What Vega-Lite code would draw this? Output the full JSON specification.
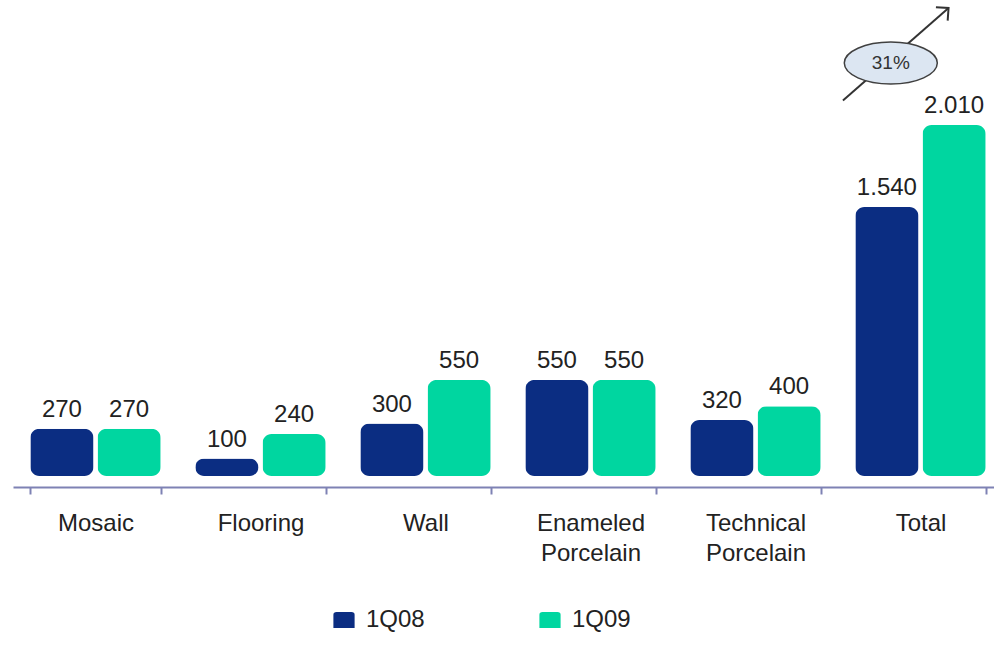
{
  "$schema": "https://vega.github.io/schema/vega-lite/v6.json",
  "autosize": {"type": "none"},
  "width": 990,
  "height": 476,
  "padding": {"left": 13, "top": 0, "right": 0, "bottom": 169},
  "background": "white",
  "config": {
    "view": {"stroke": null},
    "font": "Liberation Sans",
    "locale": {"number": {"decimal": ",", "thousands": ".", "grouping": [3], "currency": ["", ""]}}
  },
  "layer": [
    {
      "data": {"values": [
        {"category": "Mosaic", "period": "1Q08", "value": 270},
        {"category": "Mosaic", "period": "1Q09", "value": 270},
        {"category": "Flooring", "period": "1Q08", "value": 100},
        {"category": "Flooring", "period": "1Q09", "value": 240},
        {"category": "Wall", "period": "1Q08", "value": 300},
        {"category": "Wall", "period": "1Q09", "value": 550},
        {"category": "Enameled Porcelain", "period": "1Q08", "value": 550},
        {"category": "Enameled Porcelain", "period": "1Q09", "value": 550},
        {"category": "Technical Porcelain", "period": "1Q08", "value": 320},
        {"category": "Technical Porcelain", "period": "1Q09", "value": 400},
        {"category": "Total", "period": "1Q08", "value": 1540},
        {"category": "Total", "period": "1Q09", "value": 2010}
      ]},
      "encoding": {
        "x": {
          "field": "category", "type": "nominal",
          "sort": ["Mosaic", "Flooring", "Wall", "Enameled Porcelain", "Technical Porcelain", "Total"],
          "scale": {"paddingInner": 0.21, "paddingOuter": 0.105},
          "axis": {
            "title": null, "labelAngle": 0, "offset": 11,
            "domainColor": "#7e82b4", "domainWidth": 2,
            "tickColor": "#7e82b4", "tickWidth": 2, "tickSize": 7, "tickBand": "extent",
            "labelFontSize": 24, "labelColor": "#222222", "labelPadding": 17,
            "labelLineHeight": 30,
            "labelExpr": "split(datum.label, ' ')"
          }
        },
        "xOffset": {"field": "period", "type": "nominal", "scale": {"paddingInner": 0.06, "paddingOuter": 0}},
        "y": {
          "field": "value", "type": "quantitative",
          "scale": {"domain": [0, 2726], "nice": false},
          "axis": null
        }
      },
      "layer": [
        {
          "mark": {"type": "bar", "cornerRadius": 9},
          "encoding": {
            "color": {
              "field": "period", "type": "nominal",
              "scale": {"domain": ["1Q08", "1Q09"], "range": ["#0b2d82", "#00d6a0"]},
              "legend": {
                "title": null, "orient": "none", "direction": "horizontal",
                "legendX": 319, "legendY": 608,
                "symbolType": "M -1 -0.5 Q -1 -0.75 -0.7 -0.75 L 0.7 -0.75 Q 1 -0.75 1 -0.5 L 1 0.75 L -1 0.75 Z",
                "symbolSize": 450, "symbolStrokeWidth": 0, "symbolOpacity": 1,
                "labelFontSize": 24, "labelColor": "#222222", "labelOffset": 10,
                "columnPadding": 113
              }
            }
          }
        },
        {
          "mark": {"type": "text", "baseline": "alphabetic", "dy": -12, "fontSize": 24, "color": "#222222"},
          "encoding": {"text": {"field": "value", "type": "quantitative", "format": ",d"}}
        }
      ]
    },
    {
      "data": {"values": [{"x": 5.03, "y": 2150, "x2": 5.67, "y2": 2680}]},
      "mark": {"type": "rule", "color": "#333333", "strokeWidth": 2},
      "encoding": {
        "x": {"field": "x", "type": "quantitative", "scale": {"domain": [0, 6], "nice": false, "zero": false}, "axis": null},
        "x2": {"field": "x2"},
        "y": {"field": "y", "type": "quantitative"},
        "y2": {"field": "y2"}
      }
    },
    {
      "data": {"values": [{"x": 5.67, "y": 2680}]},
      "mark": {"type": "point", "shape": "M -0.8 0.8 L 0 0 L 0.8 0.8", "filled": false, "stroke": "#333333", "strokeWidth": 2, "angle": 49, "size": 500, "opacity": 1},
      "encoding": {
        "x": {"field": "x", "type": "quantitative", "scale": {"domain": [0, 6], "nice": false, "zero": false}, "axis": null},
        "y": {"field": "y", "type": "quantitative"}
      }
    },
    {
      "data": {"values": [{"x": 5.32, "y": 2365, "label": "31%"}]},
      "encoding": {
        "x": {"field": "x", "type": "quantitative", "scale": {"domain": [0, 6], "nice": false, "zero": false}, "axis": null},
        "y": {"field": "y", "type": "quantitative"}
      },
      "layer": [
        {
          "mark": {"type": "point", "shape": "M -1 0 A 1 0.45 0 1 0 1 0 A 1 0.45 0 1 0 -1 0 Z", "filled": true, "fill": "#dce6f2", "stroke": "#404040", "strokeWidth": 1.5, "size": 8650, "opacity": 1, "fillOpacity": 1}
        },
        {
          "mark": {"type": "text", "fontSize": 19, "color": "#333333", "font": "Liberation Sans"},
          "encoding": {"text": {"field": "label"}}
        }
      ]
    }
  ],
  "resolve": {"scale": {"x": "independent"}}
}
